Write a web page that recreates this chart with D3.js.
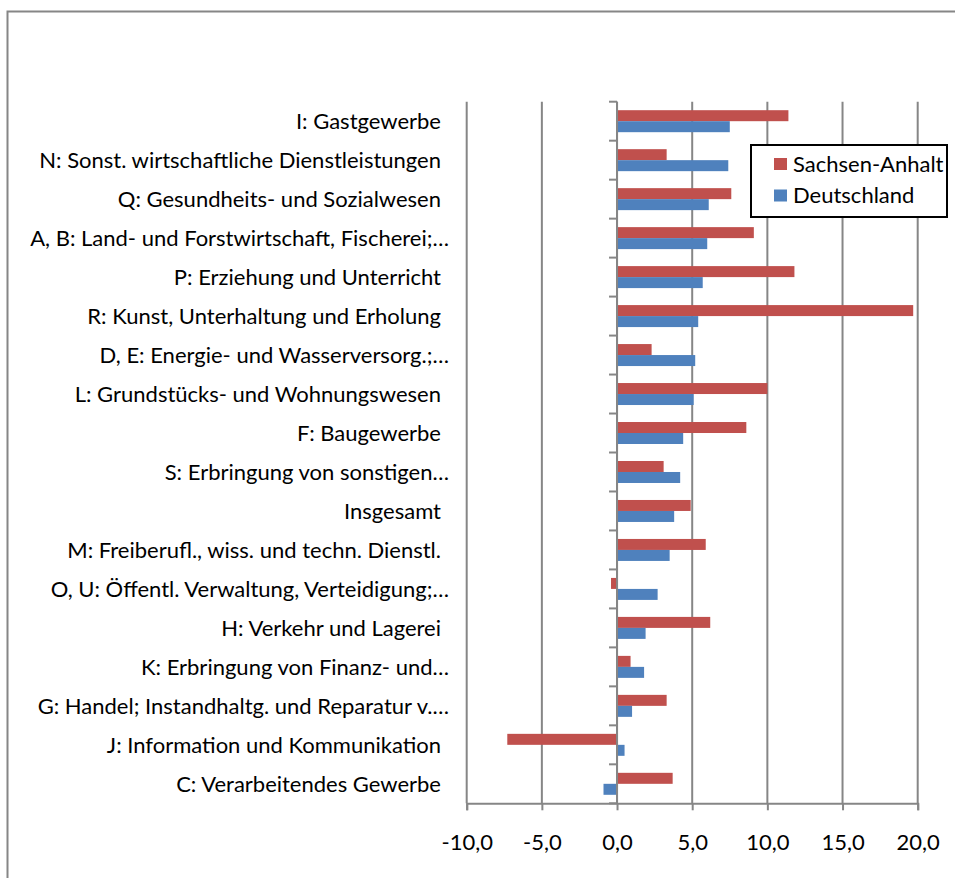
<!DOCTYPE html>
<meta charset="utf-8">
<script src="https://cdn.jsdelivr.net/npm/d3@7"></script>
<style>
body { margin: 0; background: #fff; }
text { font-family: Lato, "Open Sans", sans-serif; fill: #000; }
.grid line { stroke: #868686; stroke-width: 2px; }
</style>
<body>
<script>

var categories = [
  "I: Gastgewerbe",
  "N: Sonst. wirtschaftliche Dienstleistungen",
  "Q: Gesundheits- und Sozialwesen",
  "A, B: Land- und Forstwirtschaft, Fischerei;…",
  "P: Erziehung und Unterricht",
  "R: Kunst, Unterhaltung und Erholung",
  "D, E: Energie- und Wasserversorg.;…",
  "L: Grundstücks- und Wohnungswesen",
  "F: Baugewerbe",
  "S: Erbringung von sonstigen…",
  "Insgesamt",
  "M: Freiberufl., wiss. und techn. Dienstl.",
  "O, U: Öffentl. Verwaltung, Verteidigung;…",
  "H: Verkehr und Lagerei",
  "K: Erbringung von Finanz- und…",
  "G: Handel; Instandhaltg. und Reparatur v.…",
  "J: Information und Kommunikation",
  "C: Verarbeitendes Gewerbe"
];

var sachsenAnhalt = [11.4, 3.3, 7.6, 9.1, 11.8, 19.7, 2.3, 10.0, 8.6, 3.1, 4.9, 5.9, -0.4, 6.2, 0.9, 3.3, -7.3, 3.7];
var deutschland   = [7.5, 7.4, 6.1, 6.0, 5.7, 5.4, 5.2, 5.1, 4.4, 4.2, 3.8, 3.5, 2.7, 1.9, 1.8, 1.0, 0.5, -0.9];

var seriesNames = ["Sachsen-Anhalt", "Deutschland"];
var seriesColors = ["#C0504D", "#4F81BD"];
var xTicks = [-10, -5, 0, 5, 10, 15, 20];

var width = 955, height = 878;

var svg = d3.select("body").append("svg")
    .attr("width", width)
    .attr("height", height);

// outer chart border
svg.append("rect")
    .attr("x", 7.5).attr("y", 11.5)
    .attr("width", 1000).attr("height", 1000)
    .attr("fill", "none")
    .attr("stroke", "#868686")
    .attr("stroke-width", 2);

var x = d3.scaleLinear().domain([-10, 20]).range([466.7, 917.7]);

var y = d3.scaleBand()
    .domain(categories)
    .range([101.7, 803.3])
    .paddingInner(17 / 39)
    .paddingOuter(8.5 / 39);

var ySeries = d3.scaleBand()
    .domain(seriesNames)
    .range([0, y.bandwidth()]);

var plotTop = y.range()[0], plotBottom = y.range()[1];

// vertical gridlines
svg.append("g").attr("class", "grid")
  .selectAll("line")
  .data(xTicks)
  .enter().append("line")
    .attr("x1", function(d) { return x(d); })
    .attr("x2", function(d) { return x(d); })
    .attr("y1", plotTop)
    .attr("y2", plotBottom);

// bars
var rows = categories.map(function(c, i) {
  return { cat: c, values: [sachsenAnhalt[i], deutschland[i]] };
});

var group = svg.append("g").selectAll("g")
    .data(rows)
    .enter().append("g")
    .attr("transform", function(d) { return "translate(0," + y(d.cat) + ")"; });

group.selectAll("rect")
    .data(function(d) { return d.values.map(function(v, j) { return { v: v, s: seriesNames[j], c: seriesColors[j] }; }); })
    .enter().append("rect")
    .attr("x", function(d) { return x(Math.min(0, d.v)); })
    .attr("width", function(d) { return Math.abs(x(d.v) - x(0)); })
    .attr("y", function(d) { return ySeries(d.s); })
    .attr("height", ySeries.bandwidth())
    .attr("fill", function(d) { return d.c; });

// category axis at zero
var yAxis = svg.append("g")
    .attr("transform", "translate(" + x(0) + ",0)");
yAxis.append("line")
    .attr("x1", 0).attr("x2", 0)
    .attr("y1", plotTop).attr("y2", plotBottom)
    .attr("stroke", "#868686").attr("stroke-width", 2);
var step = y.step();
yAxis.selectAll("line.tick")
    .data(d3.range(categories.length + 1))
    .enter().append("line")
    .attr("class", "tick")
    .attr("x1", -8).attr("x2", 0)
    .attr("y1", function(i) { return plotTop + i * step; })
    .attr("y2", function(i) { return plotTop + i * step; })
    .attr("stroke", "#868686").attr("stroke-width", 2);

// category labels
svg.append("g").selectAll("text")
    .data(categories)
    .enter().append("text")
    .attr("x", function(d) { return d.slice(-1) === "…" ? 449 : 441; })
    .attr("y", function(d) { return y(d) + y.bandwidth() / 2; })
    .attr("dy", "0.35em")
    .attr("text-anchor", "end")
    .style("font-size", "22px")
    .text(function(d) { return d; });

// value axis at bottom
var xAxis = svg.append("g")
    .attr("transform", "translate(0," + plotBottom + ")")
    .call(d3.axisBottom(x)
      .tickValues(xTicks)
      .tickSize(7)
      .tickPadding(24)
      .tickFormat(function(d) { return d3.format(".1f")(d).replace("−", "-").replace(".", ","); }));
xAxis.select(".domain").attr("stroke", "#868686").attr("stroke-width", 2);
xAxis.selectAll(".tick line").attr("stroke", "#868686").attr("stroke-width", 2);
xAxis.selectAll(".tick text")
    .style("font-family", "Lato, 'Open Sans', sans-serif")
    .style("font-size", "22px")
    .attr("fill", "#000");

// legend
var legend = svg.append("g").attr("transform", "translate(751,145)");
legend.append("rect")
    .attr("width", 196).attr("height", 72)
    .attr("fill", "#fff")
    .attr("stroke", "#000")
    .attr("stroke-width", 2);
var item = legend.selectAll("g.item")
    .data(seriesNames)
    .enter().append("g")
    .attr("class", "item")
    .attr("transform", function(d, i) { return "translate(23," + (13 + i * 31.5) + ")"; });
item.append("rect")
    .attr("width", 13).attr("height", 12)
    .attr("fill", function(d, i) { return seriesColors[i]; });
item.append("text")
    .attr("x", 19).attr("y", 6)
    .attr("dy", "0.35em")
    .style("font-size", "22px")
    .text(function(d) { return d; });

</script>
</body>
